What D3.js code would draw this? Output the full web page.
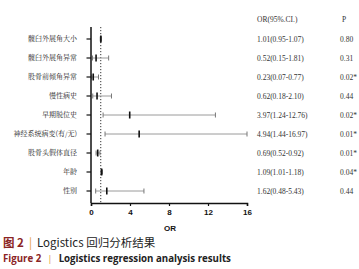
<!DOCTYPE html>
<html>
<head>
<meta charset="utf-8">
<script src="https://cdn.jsdelivr.net/npm/d3@7/dist/d3.min.js"></script>
<style>
  body { margin: 0; background: #fff; }
  svg { display: block; }
</style>
</head>
<body>
<div id="chart"></div>
<script>
// Forest plot data
const labels = ["髋臼外展角大小", "髋臼外展角异常", "股骨前倾角异常", "慢性病史", "早期脱位史",
  "神经系统病变(有/无)", "股骨头假体直径", "年龄", "性别"];
const orValues = [1.01, 0.52, 0.23, 0.62, 3.97, 4.94, 0.69, 1.09, 1.62];
const ciLow = [0.95, 0.15, 0.07, 0.18, 1.24, 1.44, 0.52, 1.01, 0.48];
const ciHigh = [1.07, 1.81, 0.77, 2.10, 12.76, 16.97, 0.92, 1.18, 5.43];
const pValues = ["0.80", "0.31", "0.02*", "0.44", "0.02*", "0.01*", "0.01*", "0.04*", "0.44"];
const xTicks = [0, 4, 8, 12, 16];

const width = 359, height = 269;
const svg = d3.select("#chart").append("svg").attr("width", width).attr("height", height);

const x = d3.scaleLinear().domain([0, 16]).range([91, 247]);
const y = d3.scalePoint().domain(d3.range(labels.length)).range([39, 191]);
const plotTop = 27, plotBottom = 203;

// ── Reference line at OR = 1 ──
svg.append("line")
  .attr("x1", x(1)).attr("x2", x(1))
  .attr("y1", plotTop).attr("y2", plotBottom)
  .attr("stroke", "#333").attr("stroke-width", 1)
  .attr("stroke-dasharray", "1.2 1.8");

// ── CI bars ──
const rows = svg.append("g");
labels.forEach((lab, i) => {
  const yy = y(i);
  const lo = x(ciLow[i]), hi = x(Math.min(ciHigh[i], 16));
  rows.append("line").attr("x1", lo).attr("x2", hi).attr("y1", yy).attr("y2", yy)
    .attr("stroke", "#9a9a9a").attr("stroke-width", 1);
  [lo, hi].forEach(cx => {
    rows.append("line").attr("x1", cx).attr("x2", cx).attr("y1", yy - 2.5).attr("y2", yy + 2.5)
      .attr("stroke", "#777").attr("stroke-width", 1);
  });
  rows.append("line").attr("x1", x(orValues[i])).attr("x2", x(orValues[i]))
    .attr("y1", yy - 3.5).attr("y2", yy + 3.5)
    .attr("stroke", "#111").attr("stroke-width", 1.6);
});

// ── Axes ──
const yAxis = svg.append("g").attr("transform", `translate(${x(0)},0)`);
yAxis.append("line").attr("x1", 0).attr("x2", 0).attr("y1", plotTop).attr("y2", plotBottom)
  .attr("stroke", "#111").attr("stroke-width", 1.5);
labels.forEach((lab, i) => {
  yAxis.append("line").attr("x1", -4.5).attr("x2", 0).attr("y1", y(i)).attr("y2", y(i))
    .attr("stroke", "#111").attr("stroke-width", 1.2);
  yAxis.append("text").attr("x", -14).attr("y", y(i)).attr("dy", "0.35em")
    .attr("text-anchor", "end")
    .attr("font-family", "'Noto Serif CJK SC', 'Noto Sans CJK SC', serif")
    .attr("font-size", "7px").attr("fill", "#222").text(lab);
});

const xAxis = svg.append("g").attr("transform", `translate(0,${plotBottom})`)
  .call(d3.axisBottom(x).tickValues(xTicks).tickSize(3).tickPadding(3).tickFormat(d3.format("d")));
xAxis.select(".domain").attr("stroke", "#111").attr("stroke-width", 1.5);
xAxis.selectAll(".tick line").attr("stroke", "#111").attr("stroke-width", 1.2);
xAxis.selectAll("text").attr("font-family", "Arial, 'Liberation Sans', sans-serif")
  .attr("font-weight", "bold").attr("font-size", "8px").attr("fill", "#111");

svg.append("text").attr("x", 170).attr("y", 231).attr("text-anchor", "middle")
  .attr("font-family", "Arial, 'Liberation Sans', sans-serif").attr("font-weight", "bold")
  .attr("font-size", "8px").attr("fill", "#111").text("OR");

// ── Right-hand table ──
const tbl = svg.append("g").attr("font-family", "'Liberation Serif', 'Times New Roman', serif")
  .attr("font-size", "7.5px").attr("fill", "#333");
tbl.append("text").attr("x", 257).attr("y", 22).text("OR(95%.CI.)");
tbl.append("text").attr("x", 342).attr("y", 22).text("P");
labels.forEach((lab, i) => {
  const txt = `${orValues[i].toFixed(2)}(${ciLow[i].toFixed(2)}-${ciHigh[i].toFixed(2)})`;
  tbl.append("text").attr("x", 257).attr("y", y(i)).attr("dy", "0.35em").text(txt);
  tbl.append("text").attr("x", 340).attr("y", y(i)).attr("dy", "0.35em").text(pValues[i]);
});

// ── Caption ──
const cap1 = svg.append("text").attr("x", 3).attr("y", 247)
  .attr("font-family", "'Noto Sans CJK SC', 'Open Sans', sans-serif").attr("font-size", "11.5px");
cap1.append("tspan").attr("fill", "#8a2424").attr("font-weight", "bold").text("图 2");
cap1.append("tspan").attr("fill", "#e39a3b").attr("dx", 5).text("|");
cap1.append("tspan").attr("fill", "#222").attr("dx", 5).text("Logistics 回归分析结果");

const cap2 = svg.append("text").attr("x", 3).attr("y", 262)
  .attr("font-family", "'Open Sans', 'Noto Sans', sans-serif").attr("font-size", "9.7px")
  .attr("font-weight", "bold");
cap2.append("tspan").attr("fill", "#8a2424").text("Figure 2");
cap2.append("tspan").attr("fill", "#e39a3b").attr("dx", 6).attr("font-weight", "normal").text("|");
cap2.append("tspan").attr("fill", "#222").attr("dx", 6).text("Logistics regression analysis results");
</script>
</body>
</html>
